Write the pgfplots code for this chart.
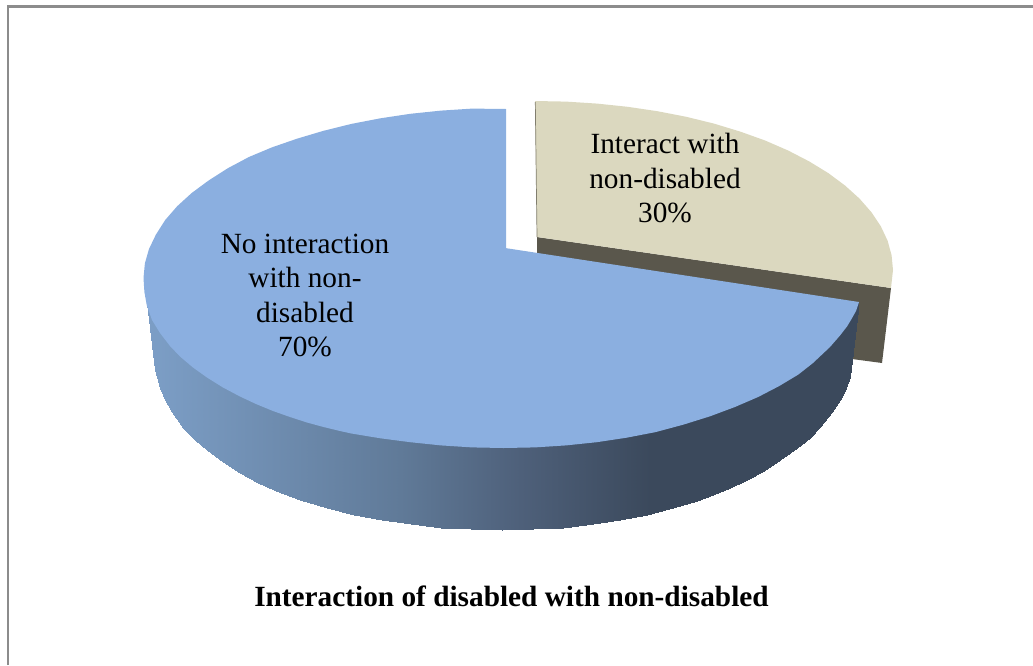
\documentclass[border=0pt]{standalone}
\usepackage{fontspec}
\setmainfont{Liberation Serif}
\usepackage{pgfplots}
\pgfplotsset{compat=1.18}
\definecolor{pieblue}{RGB}{139,175,224}
\definecolor{piebeige}{RGB}{219,216,191}
\definecolor{piedark}{RGB}{90,87,76}
\definecolor{frameg}{RGB}{140,140,140}
\begin{document}
\begin{tikzpicture}[x=1pt,y=1pt]
\useasboundingbox (0,0) rectangle (1033,665);
\begin{axis}[
  at={(0,0)},anchor=south west,
  width=1033pt,height=665pt,scale only axis,
  xmin=0,xmax=1033,ymin=0,ymax=665,y dir=reverse,
  hide axis,clip=false,
  colormap={side}{rgb255(150pt)=(124,158,198); rgb255(400pt)=(96,122,152); rgb255(520pt)=(78,96,122); rgb255(650pt)=(59,73,92); rgb255(853pt)=(59,73,92)},
  point meta min=151,point meta max=853,
]
% frame
\addplot[frameg,line width=2.5pt,forget plot] coordinates {(8,665) (8,6.5) (1033,6.5)};
% beige slice: thickness
\addplot[fill=piedark,draw=none,forget plot] coordinates {(537,237) (891,288) (882,363) (852,359) (840,350) (537,300)} -- cycle;
% beige slice: top
\addplot[fill=piebeige,draw=none,forget plot] coordinates {
(535,101) (566.2,101.6) (597.2,103.6) (627.7,106.8) (657.4,111.2) (686.3,116.8) (714,123.6) (740.3,131.6) (765.1,140.5) (788.1,150.5) (809.2,161.4) (828.3,173.1) (845,185.5) (859.5,198.6) (871.4,212.2) (880.8,226.3) (887.6,240.7) (891.6,255.3) (893,270) (891,288) (537,237)} -- cycle;
\addplot[piedark!70!piebeige,line width=0.7pt,forget plot] coordinates {(535.3,102) (537,237)};
% blue slice: side, shaded across x
\addplot[surf,shader=interp,mesh/rows=39,point meta=explicit,forget plot] table[x=x,y=y,meta=m] {
x y m
143.5 278 155
155 370 155
160 308 160
160 388 160
165 320 165
165 400 165
172 332 172
172 412 172
183 348 183
183 428 183
195 360 195
195 440 195
207 370 207
207 450 207
223 382 223
223 462 223
240 390 240
240 473 240
258 400 258
258 483 258
276 408 276
276 491 276
300 410 300
300 500 300
326.5 418 326.5
326.5 507.9 326.5
353.7 425 353.7
353.7 514.5 353.7
382 430 382
382 520 382
411 434 411
411 524.4 411
441 437 441
441 527.5 441
471 439 471
471 529.4 471
502 440 502
502 530 502
532.6 439 532.6
532.6 529.4 532.6
563 437 563
563 527.5 563
593 434 593
593 524.4 593
620 430 620
620 520 620
647 424 647
647 514.5 647
680 416 680
680 506 680
696.5 411 696.5
696.5 501 696.5
713 405 713
713 495 713
730 398 730
730 488 730
747 390 747
747 480 747
764 390 764
764 470.5 764
780 380 780
780 460 780
797 368 797
797 448 797
810 358 810
810 438 810
820 347 820
820 427 820
832 332 832
832 412 832
840 320 840
840 400 840
846 310 846
846 388 846
850 303 850
850 377 850
858.5 302 852
852 360 852
};
% blue slice: top
\addplot[fill=pieblue,draw=none,forget plot] coordinates {
(506,109) (472.1,108.6) (441,110.6) (410.3,113.8) (380.4,118.3) (351.4,123.9) (323.5,130.8) (297,138.7) (272.1,147.3) (248.9,157) (227.7,168.3) (208.6,180.5) (191.7,193) (177.2,206.2) (165.2,220) (155.8,234.8) (149,249) (144.9,263.2) (143.5,278)
(144.4,292) (146.7,305) (152,320) (160,333) (170,346) (180,356.5) (193,367.5) (207,377.5) (223,387.5) (240,396.5) (256,404) (273,411) (290,417) (307,422.5) (323.5,427) (340,431) (351.4,433.5) (380.4,438.3) (410.3,442.2) (441,445.4) (472.1,447.4) (503.5,448)
(534.9,447.4) (566,445.4) (596.7,442.2) (626.6,437.7) (655.6,432.1) (683.5,424.6) (710,416.3) (734.9,407) (758.1,397) (779.3,386) (798.4,374.5) (813,363) (830,347) (840,335.5) (847,326.5) (851.5,319) (856,311) (859,302) (505,248) (506,248)} -- cycle;
\node[align=center,font=\fontsize{29.3}{34.5}\selectfont,text=black] at (axis cs:665,178.5) {Interact with\\non-disabled\\30\%};
\node[align=center,font=\fontsize{29.3}{34.5}\selectfont,text=black] at (axis cs:305,295.5) {No interaction\\with non-\\disabled\\70\%};
\node[font=\fontsize{29.3}{34}\selectfont\bfseries,text=black] at (axis cs:511.5,596) {Interaction of disabled with non-disabled};
\end{axis}
\end{tikzpicture}
\end{document}
